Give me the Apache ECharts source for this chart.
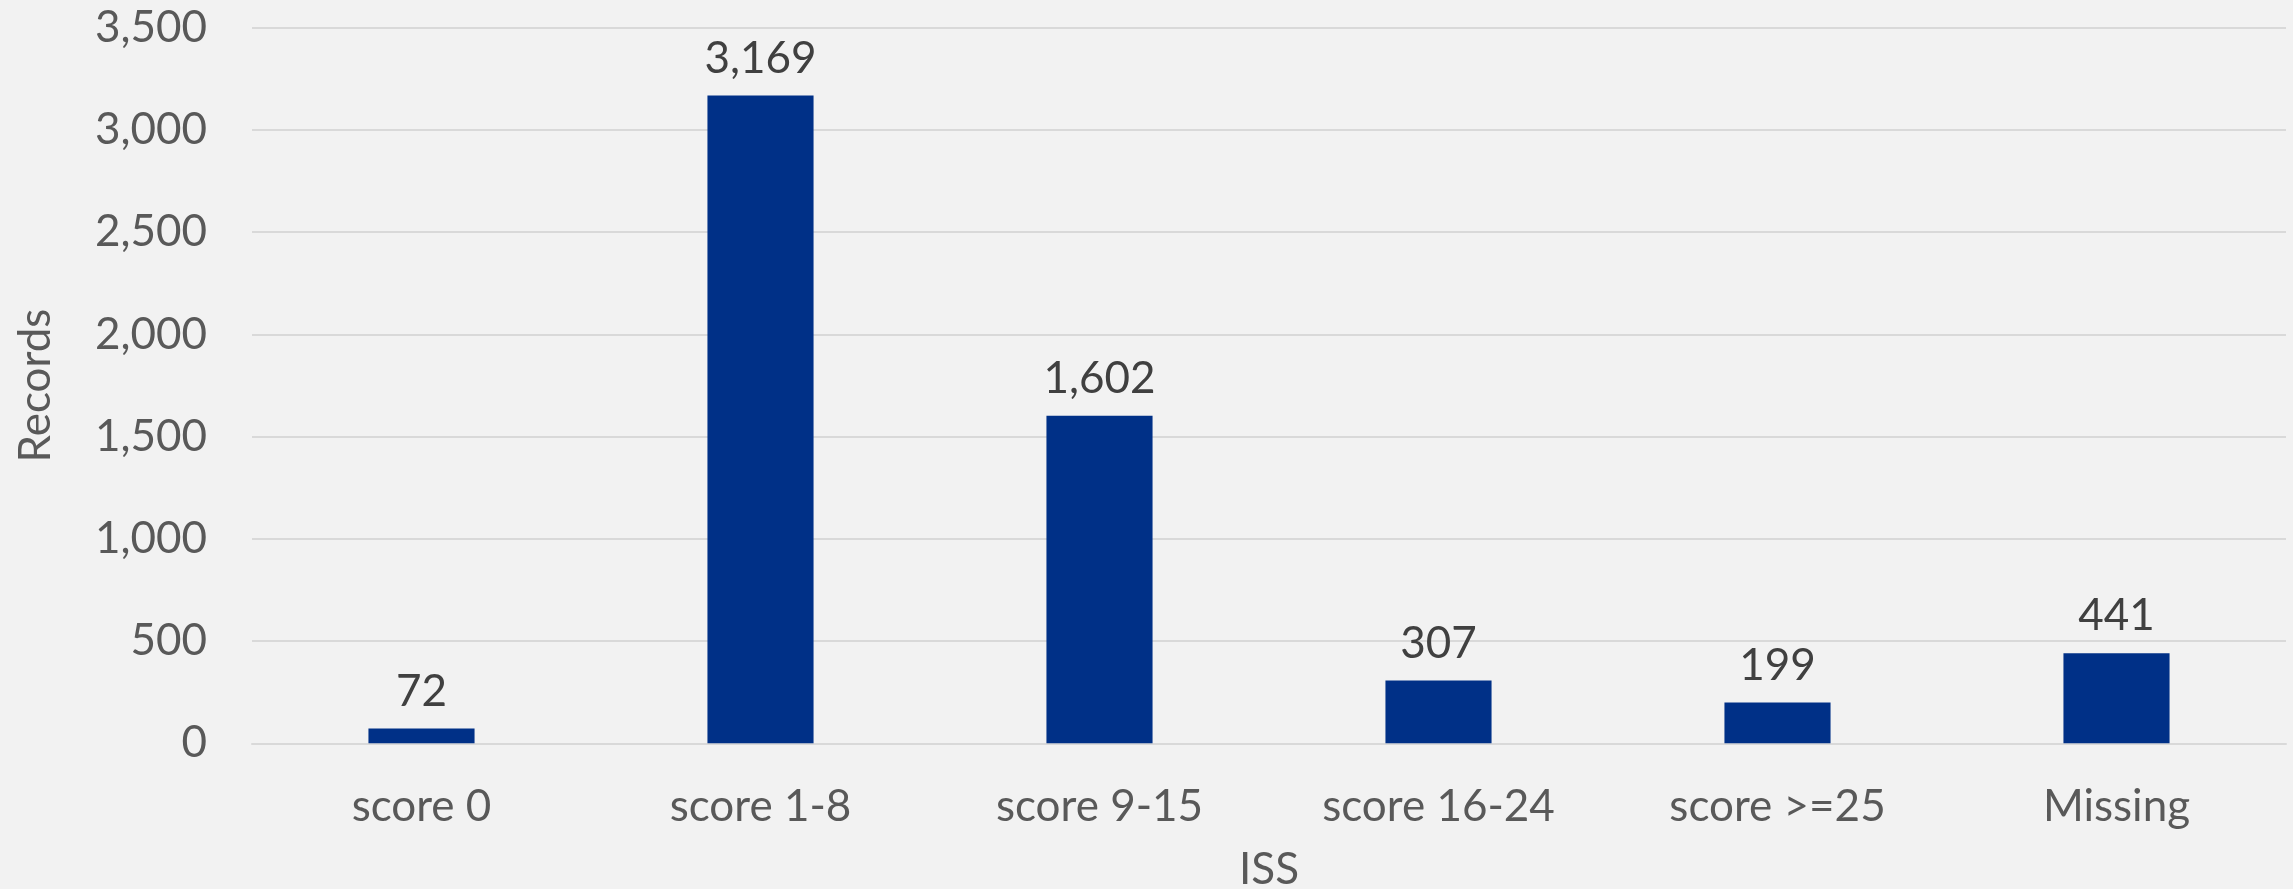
<!DOCTYPE html>
<html>
<head>
<meta charset="utf-8">
<script src="https://cdn.jsdelivr.net/npm/echarts@6/dist/echarts.min.js"></script>
<style>
html,body{margin:0;padding:0;background:#f2f2f2;}
#chart{width:2293px;height:889px;}
</style>
</head>
<body>
<div id="chart"></div>
<script>
const categories = ["score 0", "score 1-8", "score 9-15", "score 16-24", "score >=25", "Missing"];
const records = [72, 3169, 1602, 307, 199, 441];
const yTicks = [0, 500, 1000, 1500, 2000, 2500, 3000, 3500];
const xAxisTitle = "ISS";
const yAxisTitle = "Records";

const FONT = "Lato, Carlito, Calibri, sans-serif";
const fmt = v => Number(v).toLocaleString('en-US');

const chart = echarts.init(document.getElementById('chart'), null, {renderer: 'canvas'});
chart.setOption({
  backgroundColor: '#f2f2f2',
  animation: false,
  grid: {left: 252, right: 7, top: 27.7, bottom: 145.7, containLabel: false, outerBoundsMode: 'none'},
  xAxis: {
    type: 'category',
    data: categories,
    name: xAxisTitle,
    nameLocation: 'middle',
    nameGap: 105,
    nameTextStyle: {color: '#595959', fontFamily: FONT, fontSize: 44},
    axisLine: {show: true, lineStyle: {color: '#d9d9d9', width: 2}},
    axisTick: {show: false},
    axisLabel: {color: '#595959', fontFamily: FONT, fontSize: 44, margin: 42}
  },
  yAxis: {
    type: 'value',
    min: yTicks[0],
    max: yTicks[yTicks.length - 1],
    interval: yTicks[1] - yTicks[0],
    name: yAxisTitle,
    nameLocation: 'middle',
    nameGap: 194,
    nameTextStyle: {color: '#595959', fontFamily: FONT, fontSize: 44},
    axisLine: {show: false},
    axisTick: {show: false},
    splitLine: {lineStyle: {color: '#d9d9d9', width: 2}},
    axisLabel: {color: '#595959', fontFamily: FONT, fontSize: 44, margin: 45, formatter: fmt}
  },
  series: [{
    type: 'bar',
    data: records,
    barWidth: '31.3%',
    itemStyle: {color: '#003087'},
    label: {
      show: true,
      position: 'top',
      distance: 15,
      color: '#404040',
      fontFamily: FONT,
      fontSize: 44,
      formatter: p => fmt(p.value)
    }
  }]
});
</script>
</body>
</html>
